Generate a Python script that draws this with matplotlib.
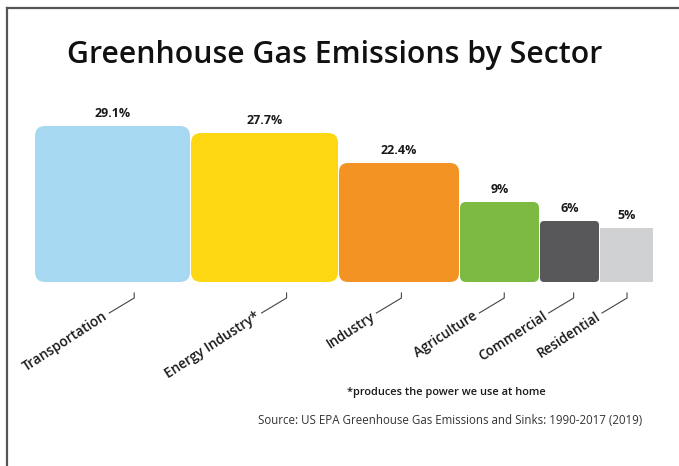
"""
ghg_sectors.py - greenhouse gas emissions by sector, drawn as a row of
rounded boxes whose size shrinks with the share.
"""

import matplotlib
matplotlib.use("Agg")
import matplotlib.pyplot as plt
from matplotlib.patches import FancyBboxPatch
from matplotlib.lines import Line2D


# ---------------------------------------------------------------------------
# Data
# ---------------------------------------------------------------------------

sectors = ["Transportation", "Energy Industry*", "Industry",
           "Agriculture", "Commercial", "Residential"]
shares = [29.1, 27.7, 22.4, 9, 6, 5]               # % of total emissions
share_labels = ["29.1%", "27.7%", "22.4%", "9%", "6%", "5%"]
box_heights = [156, 149, 119, 80, 61, 54]          # box size as drawn
box_widths = [155, 147, 120, 79, 59, 53]

footnote = "*produces the power we use at home"
source = "Source: US EPA Greenhouse Gas Emissions and Sinks: 1990-2017 (2019)"
title = "Greenhouse Gas Emissions by Sector"

# ---------------------------------------------------------------------------
# Style
# ---------------------------------------------------------------------------

colors = ["#a6d8f1", "#fdd812", "#f39323", "#7cba42", "#58585b", "#d0d1d3"]
corner = [10, 10, 9, 6, 4, 0]
leader_frac = [0.64, 0.65, 0.52, 0.56, 0.57, 0.51]   # where the leader leaves the box
gap = 1.0

W, H = 679, 466
plt.rcParams["font.family"] = ["Open Sans", "DejaVu Sans"]

fig = plt.figure(figsize=(W / 100, H / 100), dpi=100)
fig.patch.set_facecolor("white")

total_w = sum(box_widths) + gap * (len(box_widths) - 1)
ax_left, ax_bottom_px = 35, 282
ax = fig.add_axes([ax_left / W, 1 - ax_bottom_px / H,
                   total_w / W, max(box_heights) / H])
ax.set_xlim(0, total_w)
ax.set_ylim(0, max(box_heights))
ax.axis("off")

lefts = []
x = 0.0
for w in box_widths:
    lefts.append(x)
    x += w + gap

bars = ax.bar(lefts, box_heights, width=box_widths, align="edge",
              color=colors, linewidth=0)

for bar, col, r, lab, frac, name in zip(bars, colors, corner, share_labels,
                                        leader_frac, sectors):
    bx, by = bar.get_x(), bar.get_y()
    bw, bh = bar.get_width(), bar.get_height()
    bar.set_visible(False)
    ax.add_patch(FancyBboxPatch((bx, by), bw, bh,
                                boxstyle=f"round,pad=0,rounding_size={max(r, 0.01)}",
                                facecolor=col, edgecolor="none", clip_on=False))
    # share label above the box
    ax.annotate(lab, (bx + bw / 2, by + bh), xytext=(0, 6),
                textcoords="offset pixels", ha="center", va="bottom",
                fontsize=9, fontweight="bold", color="#1a1a1a")
    # leader line and rotated sector name
    lx = bx + bw * frac
    ax.plot([lx, lx, lx - 25], [-11, -16, -31], color="#444444",
            linewidth=0.8, clip_on=False)
    ax.text(lx - 28, -33, name, rotation=33, rotation_mode="anchor",
            ha="right", va="center", fontsize=9.8, fontweight="semibold",
            color="#1a1a1a")

fig.text(335 / W, 1 - 55 / H, title, ha="center", va="center",
         fontsize=21.8, fontweight="semibold", color="#111111")
fig.text(446 / W, 1 - 393 / H, footnote, ha="center", va="center",
         fontsize=7.9, fontweight="semibold", color="#1a1a1a")
fig.text(450 / W, 1 - 421 / H, source, ha="center", va="center",
         fontsize=8.3, color="#333333")

# partial frame (top and left edges only)
fig.add_artist(Line2D([7 / W, 1], [1 - 8 / H, 1 - 8 / H],
                      color="#555555", linewidth=1.6))
fig.add_artist(Line2D([7 / W, 7 / W], [0, 1 - 8 / H],
                      color="#555555", linewidth=1.6))

fig.savefig("out.png", dpi=100)
